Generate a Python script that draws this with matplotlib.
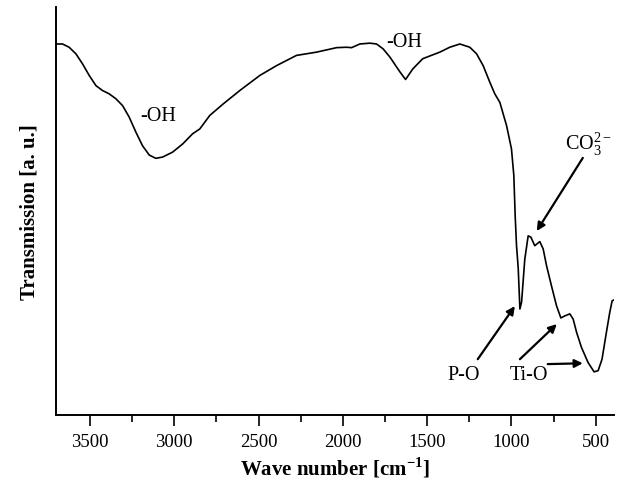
import matplotlib
matplotlib.use('Agg')
import matplotlib.pyplot as plt

plt.rcParams['font.family'] = 'Liberation Serif'
plt.rcParams['mathtext.fontset'] = 'custom'
plt.rcParams['mathtext.rm'] = 'Liberation Serif'
plt.rcParams['mathtext.bf'] = 'Liberation Serif:bold'

# FTIR spectrum (wavenumber in cm-1, transmission in a.u.)
wavenumber = [3700, 3662, 3623, 3583, 3543, 3504, 3464, 3425, 3386, 3346,
              3306, 3267, 3227, 3188, 3148, 3109, 3069, 3010, 2950, 2891,
              2848, 2789, 2710, 2611, 2492, 2393, 2275, 2156, 2037, 1978,
              1948, 1899, 1840, 1800, 1761, 1721, 1662, 1628, 1585, 1526,
              1425, 1366, 1306, 1247, 1207, 1168, 1128, 1099, 1069, 1029,
              1000, 986, 978, 970, 960, 950, 940, 921, 901, 885,
              862, 832, 812, 792, 763, 733, 707, 684, 654, 634,
              614, 585, 546, 510, 486, 463, 437, 417, 403, 393]
transmission = [90.9, 90.9, 90.1, 88.5, 86.0, 83.2, 80.7, 79.5, 78.7, 77.5,
                75.8, 73.0, 69.3, 66.0, 63.7, 62.9, 63.2, 64.4, 66.4, 68.9,
                70.1, 73.4, 76.2, 79.5, 83.2, 85.6, 88.1, 88.9, 90.0, 90.1,
                90.0, 90.9, 91.1, 90.9, 89.7, 87.7, 84.1, 82.2, 84.8, 87.3,
                88.9, 90.1, 90.9, 90.1, 88.5, 85.6, 81.5, 78.7, 76.6, 70.9,
                65.2, 58.7, 48.8, 41.5, 36.0, 26.0, 27.7, 38.2, 43.9, 43.6,
                41.5, 42.5, 40.7, 36.6, 31.7, 26.8, 23.8, 24.3, 24.8, 23.5,
                20.3, 16.6, 12.9, 10.6, 10.9, 13.7, 20.3, 25.2, 28.0, 28.2]

fig = plt.figure(figsize=(6.27, 4.89), dpi=100)
ax = fig.add_axes([0.089, 0.149, 0.890, 0.835])

ax.plot(wavenumber, transmission, color='black', lw=1.2, solid_joinstyle='round')

ax.set_xlim(3702, 393)
ax.set_ylim(0, 100)
ax.set_xticks([3500, 3000, 2500, 2000, 1500, 1000, 500])
ax.set_xticks([3250, 2750, 2250, 1750, 1250, 750], minor=True)
ax.set_yticks([])
ax.tick_params(axis='x', which='major', direction='out', length=8, width=1.2, labelsize=13.5, pad=5)
ax.tick_params(axis='x', which='minor', direction='out', length=5, width=1.2)
for side in ['top', 'right']:
    ax.spines[side].set_visible(False)
for side in ['left', 'bottom']:
    ax.spines[side].set_linewidth(1.4)

ax.set_xlabel(r'Wave number [cm$^{\mathbf{-1}}$]', fontsize=15, fontweight='bold', labelpad=3)
ax.set_ylabel('Transmission [a. u.]', fontsize=15, fontweight='bold', labelpad=12)

# band labels
ax.text(3097, 73.3, '-OH', fontsize=14.5, ha='center', va='center')
ax.text(1638, 91.4, '-OH', fontsize=14.5, ha='center', va='center')
ax.text(684, 65.2, r'CO$_3^{2-}$', fontsize=14.5, ha='left', va='baseline')
ax.text(1283, 10.0, 'P-O', fontsize=14.5, ha='center', va='center')
ax.text(897, 10.0, 'Ti-O', fontsize=14.5, ha='center', va='center')

arrow = dict(arrowstyle='-|>', color='black', lw=1.6, mutation_scale=12,
             shrinkA=0, shrinkB=0)
ax.annotate('', xy=(850, 45.1), xytext=(577, 63.0), arrowprops=arrow)
ax.annotate('', xy=(980, 26.7), xytext=(1200, 13.7), arrowprops=arrow)
ax.annotate('', xy=(731, 22.3), xytext=(950, 13.7), arrowprops=arrow)
ax.annotate('', xy=(577, 12.7), xytext=(785, 12.5), arrowprops=arrow)

fig.savefig('out.png', dpi=100)
